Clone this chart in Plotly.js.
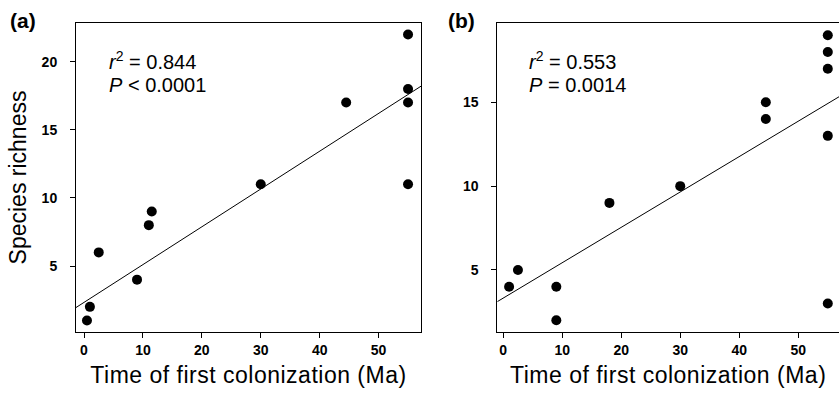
<!DOCTYPE html>
<html>
<head>
<meta charset="utf-8">
<script src="https://cdn.plot.ly/plotly-3.0.1.min.js"></script>
<style>
html,body{margin:0;padding:0;background:#fff;}
#chart{width:839px;height:393px;}
#chart .xtitle, #chart .x2title{letter-spacing:0.5px;}
</style>
</head>
<body>
<div id="chart"></div>
<script>
// Panel (a)
var timeA = [0.5, 1, 2.5, 9, 11, 11.5, 30, 44.5, 55, 55, 55, 55];
var richA = [1, 2, 6, 4, 8, 9, 11, 17, 22, 18, 17, 11];
var fitXA = [-1.4, 57.2];
var fitYA = [1.94, 18.2];
// Panel (b)
var timeB = [1, 2.5, 9, 9, 18, 30, 44.5, 44.5, 55, 55, 55, 55, 55];
var richB = [4, 5, 4, 2, 9, 10, 15, 14, 19, 18, 17, 13, 3];
var fitXB = [-1.0, 56.9];
var fitYB = [3.11, 15.33];
var statsA = ["<i>r</i><sup>2</sup> = 0.844", "<i>P</i> < 0.0001"];
var statsB = ["<i>r</i><sup>2</sup> = 0.553", "<i>P</i> = 0.0014"];
var xTicks = [0, 10, 20, 30, 40, 50];
var yTicksA = [5, 10, 15, 20];
var yTicksB = [5, 10, 15];

var FONT = "Liberation Sans, Arial, Helvetica, sans-serif";
var W = 839, H = 393;
function px(v, tot){ return v / tot; }

var marker = {color: "#000", size: 10, line: {width: 0}};
var traces = [
  {x: fitXA, y: fitYA, mode: "lines", line: {color: "#000", width: 1}, xaxis: "x", yaxis: "y", hoverinfo: "skip"},
  {x: timeA, y: richA, mode: "markers", marker: marker, xaxis: "x", yaxis: "y"},
  {x: fitXB, y: fitYB, mode: "lines", line: {color: "#000", width: 1}, xaxis: "x2", yaxis: "y2", hoverinfo: "skip"},
  {x: timeB, y: richB, mode: "markers", marker: marker, xaxis: "x2", yaxis: "y2"}
];

var axCommon = {
  showgrid: false, zeroline: false, showline: true, mirror: true,
  linecolor: "#000", linewidth: 1, ticks: "outside", ticklen: 5, tickwidth: 1,
  tickcolor: "#000", tickfont: {family: FONT, size: 14, color: "#000", weight: "bold"}
};
var yDom = [1 - 332 / H, 1 - 23 / H];
var titleFont = {family: FONT, size: 23, color: "#000"};

var layout = {
  width: W, height: H,
  margin: {l: 0, r: 0, t: 0, b: 0},
  paper_bgcolor: "#fff", plot_bgcolor: "#fff",
  showlegend: false,
  font: {family: FONT, color: "#000"},
  xaxis: Object.assign({}, axCommon, {
    domain: [px(76, W), px(421, W)], range: [-1.36, 57.2],
    tickvals: xTicks, ticklabelstandoff: 0, anchor: "y",
    title: {text: "Time of first colonization (Ma)", font: titleFont, standoff: 10}
  }),
  yaxis: Object.assign({}, axCommon, {
    domain: yDom, range: [0.155, 22.84], tickvals: yTicksA,
    ticklabelstandoff: 10, anchor: "x",
    title: {text: "Species richness", font: titleFont, standoff: 8}
  }),
  xaxis2: Object.assign({}, axCommon, {
    domain: [px(497.3, W), 1], range: [-1.0, 56.9],
    tickvals: xTicks, ticklabelstandoff: 0, anchor: "y2",
    title: {text: "Time of first colonization (Ma)", font: titleFont, standoff: 10}
  }),
  yaxis2: Object.assign({}, axCommon, {
    domain: yDom, range: [1.30, 19.73], tickvals: yTicksB,
    ticklabelstandoff: 10, anchor: "x2"
  }),
  annotations: [
    {xref: "x", yref: "y", x: 3.9, y: 20.1, text: statsA[0], showarrow: false, xanchor: "left", yanchor: "middle", font: {family: FONT, size: 20, color: "#000"}},
    {xref: "x", yref: "y", x: 3.9, y: 18.3, text: statsA[1], showarrow: false, xanchor: "left", yanchor: "middle", font: {family: FONT, size: 20, color: "#000"}},
    {xref: "x2", yref: "y2", x: 4.0, y: 17.52, text: statsB[0], showarrow: false, xanchor: "left", yanchor: "middle", font: {family: FONT, size: 20, color: "#000"}},
    {xref: "x2", yref: "y2", x: 4.0, y: 16.03, text: statsB[1], showarrow: false, xanchor: "left", yanchor: "middle", font: {family: FONT, size: 20, color: "#000"}},
    {xref: "paper", yref: "paper", x: px(23, W), y: 1 - 20 / H, text: "<b>(a)</b>", showarrow: false, xanchor: "center", yanchor: "middle", font: {family: FONT, size: 21, color: "#000"}},
    {xref: "paper", yref: "paper", x: px(461, W), y: 1 - 20 / H, text: "<b>(b)</b>", showarrow: false, xanchor: "center", yanchor: "middle", font: {family: FONT, size: 21, color: "#000"}}
  ]
};

Plotly.newPlot("chart", traces, layout, {displayModeBar: false, staticPlot: true});
</script>
</body>
</html>
